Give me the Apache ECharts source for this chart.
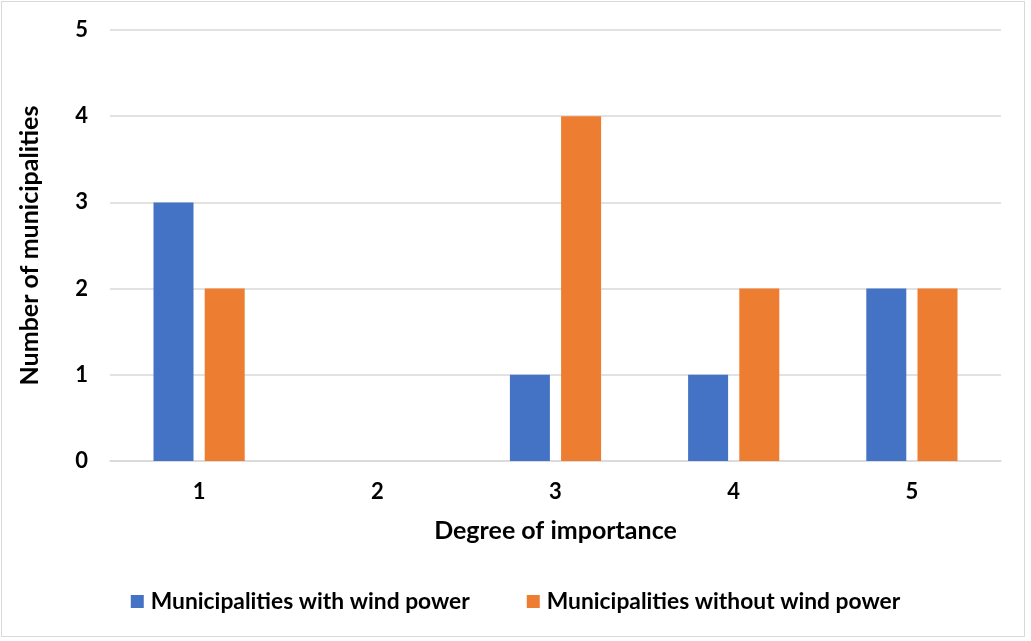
<!DOCTYPE html>
<html>
<head>
<meta charset="utf-8">
<script src="https://cdn.jsdelivr.net/npm/echarts@6/dist/echarts.min.js"></script>
<style>
  html, body { margin: 0; padding: 0; background: #fff; }
  #frame { position: absolute; left: 1px; top: 1px; width: 1024px; height: 636px; border: 1px solid #d9d9d9; box-sizing: border-box; }
  #chart { width: 1031px; height: 641px; }
</style>
</head>
<body>
<div id="frame"></div>
<div id="chart"></div>
<script>
// Degree of importance (x axis categories)
const categories = ['1', '2', '3', '4', '5'];
// Number of municipalities per degree
const withWind = [3, 0, 1, 1, 2];
const withoutWind = [2, 0, 4, 2, 2];
const seriesNames = ['Municipalities with wind power', 'Municipalities without wind power'];

const FONT = 'Lato';
const chart = echarts.init(document.getElementById('chart'), null, { renderer: 'canvas' });

chart.setOption({
  animation: false,
  textStyle: { fontFamily: FONT },
  grid: { left: 110, right: 30, top: 30, bottom: 180 },
  legend: {
    bottom: 23,
    left: 'center',
    itemGap: 57,
    itemWidth: 13,
    itemHeight: 13,
    icon: 'rect',
    textStyle: { fontFamily: FONT, fontWeight: 'bold', fontSize: 22.8, color: '#000', padding: [0, 0, 0, 2] },
    data: seriesNames
  },
  xAxis: {
    type: 'category',
    data: categories,
    name: 'Degree of importance',
    nameLocation: 'middle',
    nameGap: 57,
    nameTextStyle: { fontFamily: FONT, fontWeight: 'bold', fontSize: 25, color: '#000' },
    axisLine: { lineStyle: { color: '#d9d9d9', width: 1.5 } },
    axisTick: { show: false },
    axisLabel: { fontFamily: FONT, fontWeight: 'bold', fontSize: 22, color: '#000', margin: 20 }
  },
  yAxis: {
    type: 'value',
    min: 0,
    max: 5,
    interval: 1,
    name: 'Number of municipalities',
    nameLocation: 'middle',
    nameGap: 68,
    nameTextStyle: { fontFamily: FONT, fontWeight: 'bold', fontSize: 25, color: '#000' },
    axisLine: { show: false },
    axisTick: { show: false },
    axisLabel: { fontFamily: FONT, fontWeight: 'bold', fontSize: 22, color: '#000', margin: 22 },
    splitLine: { lineStyle: { color: '#d9d9d9', width: 1.5 } }
  },
  series: [
    {
      name: seriesNames[0],
      type: 'bar',
      data: withWind,
      barWidth: 40,
      barGap: '28%',
      itemStyle: { color: '#4472c4' }
    },
    {
      name: seriesNames[1],
      type: 'bar',
      data: withoutWind,
      barWidth: 40,
      itemStyle: { color: '#ed7d31' }
    }
  ]
});
</script>
</body>
</html>
